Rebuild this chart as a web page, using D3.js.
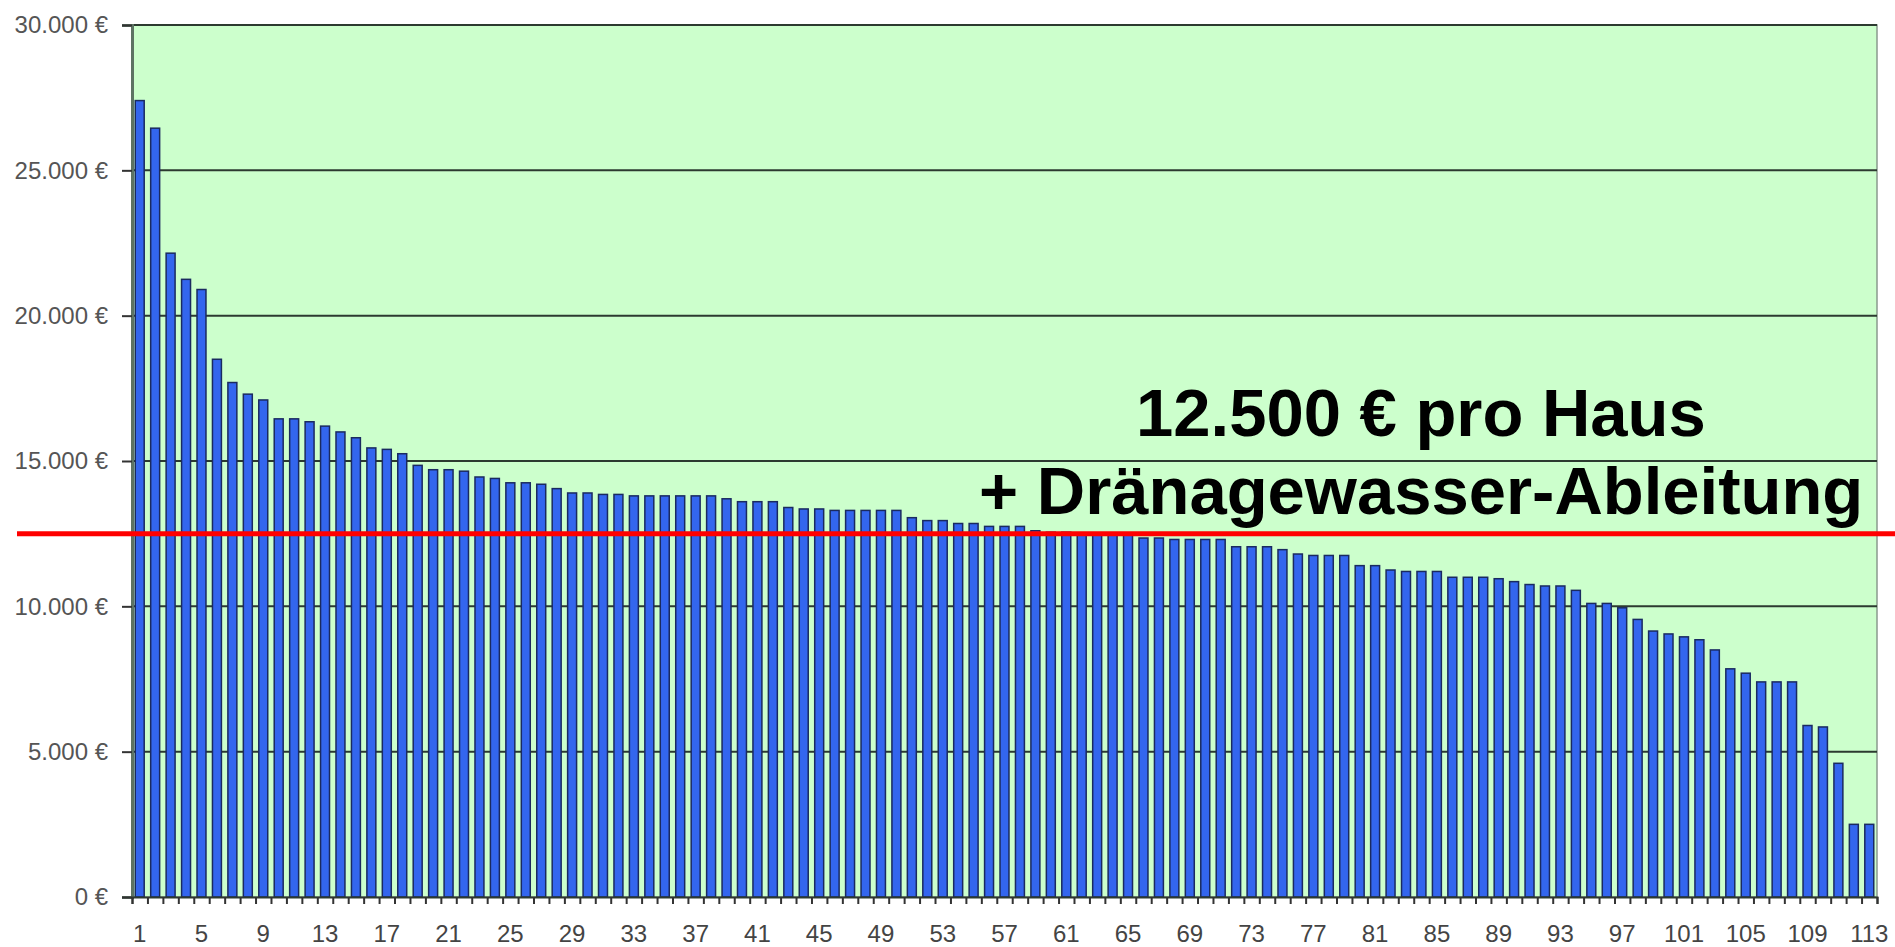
<!DOCTYPE html>
<html>
<head>
<meta charset="utf-8">
<script src="https://cdn.jsdelivr.net/npm/d3@7"></script>
<style>
  body { margin: 0; background: #fff; }
  svg { display: block; font-family: "Liberation Sans", Arial, sans-serif; }
</style>
</head>
<body>
<svg id="chart" width="1895" height="947"></svg>
<script>
// costs per house, sorted descending
const houses = d3.range(1, 114);
const costs = [
  27400, 26450, 22150, 21250, 20900, 18500, 17700, 17300, 17100, 16450,
  16450, 16350, 16200, 16000, 15800, 15450, 15400, 15250, 14850, 14700,
  14700, 14650, 14450, 14400, 14250, 14250, 14200, 14050, 13900, 13900,
  13850, 13850, 13800, 13800, 13800, 13800, 13800, 13800, 13700, 13600,
  13600, 13600, 13400, 13350, 13350, 13300, 13300, 13300, 13300, 13300,
  13050, 12950, 12950, 12850, 12850, 12750, 12750, 12750, 12600, 12550,
  12550, 12500, 12500, 12500, 12450, 12350, 12350, 12300, 12300, 12300,
  12300, 12050, 12050, 12050, 11950, 11800, 11750, 11750, 11750, 11400,
  11400, 11250, 11200, 11200, 11200, 11000, 11000, 11000, 10950, 10850,
  10750, 10700, 10700, 10550, 10100, 10100, 9950, 9550, 9150, 9050,
  8950, 8850, 8500, 7850, 7700, 7400, 7400, 7400, 5900, 5850,
  4600, 2500, 2500
];
const yTicks = [0, 5000, 10000, 15000, 20000, 25000, 30000];
const xLabels = d3.range(1, 114, 4);
const average = 12500;
const noteLines = ['12.500 € pro Haus', '+ Dränagewasser-Ableitung'];

const svg = d3.select('#chart');
const plotLeft = 132, plotRight = 1877, plotTop = 25, plotBottom = 897;

const de = d3.formatLocale({ decimal: ',', thousands: '.', grouping: [3], currency: ['', ' €'] });
const fmt = de.format(',');

const x = d3.scaleBand().domain(houses).range([plotLeft, plotRight])
  .paddingInner(0.42).paddingOuter(0.21);
const xEdge = d3.scaleLinear().domain([0, houses.length]).range([plotLeft, plotRight]);
const y = d3.scaleLinear().domain([0, 30000]).range([plotBottom, plotTop]);

// plot background
svg.append('rect')
  .attr('x', plotLeft).attr('y', plotTop)
  .attr('width', plotRight - plotLeft).attr('height', plotBottom - plotTop)
  .attr('fill', '#ccffcc')
  .attr('stroke', '#8a9a8e').attr('stroke-width', 1.5);

// gridlines
svg.append('g').selectAll('line').data(yTicks.slice(1))
  .join('line')
  .attr('x1', plotLeft).attr('x2', plotRight)
  .attr('y1', d => y(d)).attr('y2', d => y(d))
  .attr('stroke', '#2c3a30').attr('stroke-width', 2);

// bars
svg.append('g').selectAll('rect').data(costs)
  .join('rect')
  .attr('x', (d, i) => x(houses[i]))
  .attr('y', d => y(d))
  .attr('width', x.bandwidth())
  .attr('height', d => plotBottom - y(d))
  .attr('fill', '#3366ee')
  .attr('stroke', '#1a2a60').attr('stroke-width', 1.5);

// y axis
const yAxis = svg.append('g')
  .attr('transform', `translate(${plotLeft},0)`)
  .call(d3.axisLeft(y).tickValues(yTicks).tickSize(10).tickPadding(14)
    .tickFormat(d => `${fmt(d)} €`));
yAxis.select('.domain').attr('stroke', '#5d7363').attr('stroke-width', 3);
yAxis.selectAll('.tick line').attr('stroke', '#333').attr('stroke-width', 2);
yAxis.selectAll('.tick text')
  .attr('font-size', 24).attr('fill', '#555')
  .attr('font-family', '"Liberation Sans", Arial, sans-serif');

// x axis: small ticks at bar boundaries
const xAxis = svg.append('g')
  .attr('transform', `translate(0,${plotBottom})`)
  .call(d3.axisBottom(xEdge).tickValues(d3.range(0, houses.length + 1))
    .tickSize(7).tickFormat(''));
xAxis.select('.domain').attr('stroke', '#2c3a30').attr('stroke-width', 2);
xAxis.selectAll('.tick line').attr('stroke', '#333').attr('stroke-width', 2);

// x labels every 4th house
svg.append('g').selectAll('text').data(xLabels)
  .join('text')
  .attr('x', d => x(d) + x.bandwidth() / 2)
  .attr('y', 942)
  .attr('text-anchor', 'middle')
  .attr('font-size', 24).attr('fill', '#444')
  .text(d => d);

// average line
svg.append('line')
  .attr('x1', 17).attr('x2', 1895)
  .attr('y1', y(average)).attr('y2', y(average))
  .attr('stroke', '#ff0000').attr('stroke-width', 5);

// annotation
svg.append('text')
  .attr('x', 1136).attr('y', 436)
  .attr('font-size', 67).attr('font-weight', 'bold').attr('fill', '#000')
  .text(noteLines[0]);
svg.append('text')
  .attr('x', 979).attr('y', 514)
  .attr('font-size', 67).attr('font-weight', 'bold').attr('fill', '#000')
  .text(noteLines[1]);
</script>
</body>
</html>
